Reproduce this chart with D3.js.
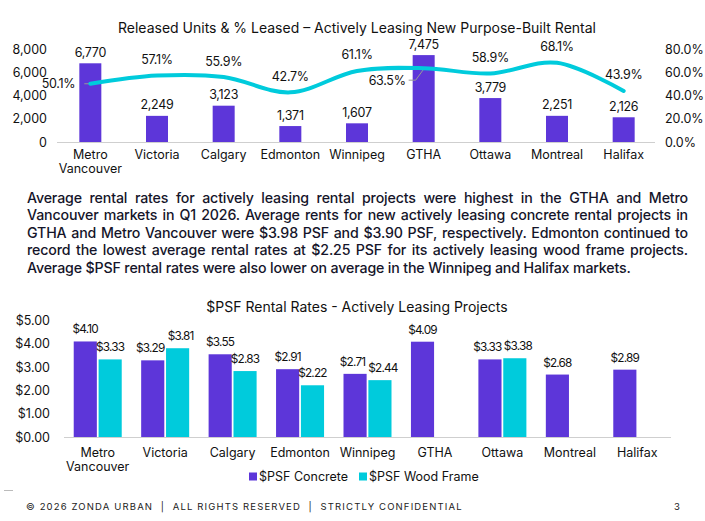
<!DOCTYPE html>
<html><head><meta charset="utf-8">
<script src="https://cdn.jsdelivr.net/npm/d3@7"></script>
<style>
html,body{margin:0;padding:0;background:#fff;}
svg{display:block;font-family:Inter,"Noto Sans",sans-serif;}
</style></head>
<body>
<svg id="c" width="705" height="521"></svg>
<script>
// ---------- data ----------
const markets = ["Metro Vancouver","Victoria","Calgary","Edmonton","Winnipeg","GTHA","Ottawa","Montreal","Halifax"];
const releasedUnits = [6770,2249,3123,1371,1607,7475,3779,2251,2126];
const pctLeased = [0.501,0.571,0.559,0.427,0.611,0.635,0.589,0.681,0.439];
const unitTicks = [0,2000,4000,6000,8000];
const pctTicks = [0,0.2,0.4,0.6,0.8];
const psfConcrete = [4.10,3.29,3.55,2.91,2.71,4.09,3.33,2.68,2.89];
const psfWood = [3.33,3.81,2.83,2.22,2.44,null,3.38,null,null];
const psfTicks = [0,1,2,3,4,5];
const seriesNames = ["$PSF Concrete","$PSF Wood Frame"];
const paragraph = [
 "Average rental rates for actively leasing rental projects were highest in the GTHA and Metro",
 "Vancouver markets in Q1 2026. Average rents for new actively leasing concrete rental projects in",
 "GTHA and Metro Vancouver were $3.98 PSF and $3.90 PSF, respectively. Edmonton continued to",
 "record the lowest average rental rates at $2.25 PSF for its actively leasing wood frame projects.",
 "Average $PSF rental rates were also lower on average in the Winnipeg and Halifax markets."
];
const title1 = "Released Units & % Leased \u2013 Actively Leasing New Purpose-Built Rental";
const title2 = "$PSF Rental Rates - Actively Leasing Projects";
const footer = "\u00A9 2026 ZONDA URBAN  |  ALL RIGHTS RESERVED  |  STRICTLY CONFIDENTIAL";

const PURPLE = "#5d36d9", CYAN = "#00cbdc", TXT = "#111", AX = "#cfcfcf";
const svg = d3.select("#c");

function catLabel(g, name, x, y) {
  const parts = name === "Metro Vancouver" ? ["Metro","Vancouver"] : [name];
  parts.forEach((p,i)=>g.append("text").attr("x",x).attr("y",y+i*13.5)
    .attr("text-anchor","middle").attr("font-size",12.5).attr("fill",TXT).text(p));
}

// ---------- chart 1 ----------
const g1 = svg.append("g");
g1.append("text").attr("x",357).attr("y",33).attr("text-anchor","middle")
  .attr("font-size",14).attr("fill",TXT).text(title1);

const x1 = d3.scaleBand().domain(markets).range([57,657]).padding(0);
const yU = d3.scaleLinear().domain([0,8000]).range([142,49]);
const yP = d3.scaleLinear().domain([0,0.8]).range([142,49]);
const bw1 = 22;

g1.append("line").attr("x1",57).attr("x2",655).attr("y1",142.5).attr("y2",142.5).attr("stroke",AX);
g1.selectAll(".lt").data(unitTicks).join("text").attr("x",47).attr("y",d=>yU(d)+4.5)
  .attr("text-anchor","end").attr("font-size",12.5).attr("fill",TXT).text(d3.format(","));
g1.selectAll(".rt").data(pctTicks).join("text").attr("x",665).attr("y",d=>yP(d)+4.5)
  .attr("text-anchor","start").attr("font-size",12.5).attr("fill",TXT).text(d3.format(".1%"));

const cx1 = m => x1(m)+x1.bandwidth()/2;
g1.selectAll(".b").data(markets).join("rect")
  .attr("x",m=>cx1(m)-bw1/2).attr("width",bw1)
  .attr("y",(m,i)=>yU(releasedUnits[i])).attr("height",(m,i)=>142-yU(releasedUnits[i]))
  .attr("fill",PURPLE);
g1.selectAll(".bl").data(markets).join("text")
  .attr("x",cx1).attr("y",(m,i)=>yU(releasedUnits[i])-6.5)
  .attr("text-anchor","middle").attr("font-size",12.5).attr("letter-spacing",-0.3).attr("fill",TXT)
  .text((m,i)=>d3.format(",")(releasedUnits[i]));
markets.forEach(m=>catLabel(g1,m,cx1(m),159));

const pts = markets.map((m,i)=>[cx1(m), yP(pctLeased[i])]);
g1.append("line").attr("x1",pts[0][0]-6).attr("x2",pts[0][0]).attr("y1",pts[0][1]).attr("y2",pts[0][1])
  .attr("stroke","#999").attr("stroke-width",1);
g1.append("path").attr("d",`M${pts[5][0]-15},${pts[5][1]+12}H${pts[5][0]-8}L${pts[5][0]},${pts[5][1]+1}`)
  .attr("fill","none").attr("stroke","#999").attr("stroke-width",1);
g1.append("path").datum(pts)
  .attr("d",d3.line().curve(d3.curveCardinal.tension(0)))
  .attr("fill","none").attr("stroke",CYAN).attr("stroke-width",4).attr("stroke-linecap","round");
pts.forEach((p,i)=>{
  const lab = d3.format(".1%")(pctLeased[i]);
  let x=p[0], y=p[1]-11.5, anchor="middle";
  if(i===0){ x=p[0]-15; y=p[1]+4.5; anchor="end"; }
  if(i===5){ x=p[0]-18; y=p[1]+16.5; anchor="end"; }
  g1.append("text").attr("x",x).attr("y",y).attr("text-anchor",anchor)
    .attr("font-size",12.5).attr("letter-spacing",-0.3).attr("fill",TXT).text(lab);
});

// ---------- paragraph ----------
const pg = svg.append("g");
const pLeft=27, pRight=688;
paragraph.forEach((line,i)=>{
  const t = pg.append("text").attr("x",pLeft).attr("y",202.5+i*17.5)
    .attr("font-size",14.2).attr("font-weight",500).attr("letter-spacing",-0.15)
    .attr("fill","#15152a").text(line);
  if(i<paragraph.length-1){
    const w = t.node().getComputedTextLength();
    const n = line.split(" ").length-1;
    t.attr("word-spacing",((pRight-pLeft)-w)/n);
  }
});

// ---------- chart 2 ----------
const g2 = svg.append("g");
g2.append("text").attr("x",357).attr("y",312).attr("text-anchor","middle")
  .attr("font-size",14).attr("fill",TXT).text(title2);
const x2 = d3.scaleBand().domain(markets).range([64,671]).padding(0);
const y2 = d3.scaleLinear().domain([0,5]).range([437,320.5]);
g2.append("line").attr("x1",64).attr("x2",671).attr("y1",437.5).attr("y2",437.5).attr("stroke",AX);
g2.selectAll(".yt").data(psfTicks).join("text").attr("x",50).attr("y",d=>y2(d)+4.5)
  .attr("text-anchor","end").attr("font-size",12.5).attr("fill",TXT).text(d=>"$"+d.toFixed(2));
const cx2 = m => x2(m)+x2.bandwidth()/2;
const xs = d3.scaleBand().domain(seriesNames).range([-24,24]).paddingInner(0.07);
const series = [psfConcrete, psfWood];
const colors = [PURPLE, CYAN];
series.forEach((vals,s)=>{
  markets.forEach((m,i)=>{
    const v = vals[i];
    if(v==null) return;
    const x = cx2(m)+xs(seriesNames[s]);
    g2.append("rect").attr("x",x).attr("width",xs.bandwidth())
      .attr("y",y2(v)).attr("height",437-y2(v)).attr("fill",colors[s]);
    // nudge labels apart when both bars in a group have similar heights
    const other = series[1-s][i];
    const close = other!=null && Math.abs(y2(other)-y2(v))<14;
    const dx = close ? (s===0 ? -2.5 : 3) : 0;
    g2.append("text").attr("x",x+xs.bandwidth()/2+dx).attr("y",y2(v)-8)
      .attr("text-anchor","middle").attr("font-size",11.8).attr("letter-spacing",-0.8)
      .attr("fill",TXT).text("$"+v.toFixed(2));
  });
});
markets.forEach(m=>catLabel(g2,m,cx2(m),457));
const lg = g2.append("g");
const legX=[249,359];
seriesNames.forEach((n,i)=>{
  lg.append("rect").attr("x",legX[i]).attr("y",472.5).attr("width",8).attr("height",8).attr("fill",colors[i]);
  lg.append("text").attr("x",legX[i]+10).attr("y",481).attr("font-size",12.5).attr("fill",TXT).text(n);
});

// ---------- footer ----------
svg.append("line").attr("x1",4).attr("x2",13).attr("y1",490.5).attr("y2",490.5).attr("stroke","#bbb");
svg.append("text").attr("x",26).attr("y",510).attr("font-size",9.5).attr("letter-spacing",1.15)
  .attr("fill","#222").text(footer).style("white-space","pre");
svg.append("text").attr("x",674).attr("y",510).attr("font-size",9.5).attr("fill","#222").text("3");
</script>
</body></html>
